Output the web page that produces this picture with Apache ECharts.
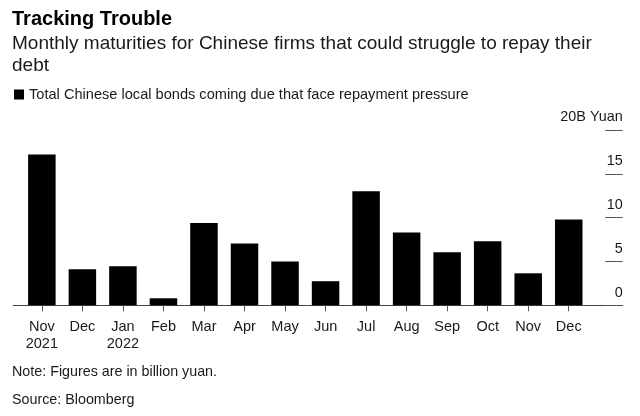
<!DOCTYPE html>
<html>
<head>
<meta charset="utf-8">
<script src="https://cdn.jsdelivr.net/npm/echarts@6/dist/echarts.min.js"></script>
<style>
html,body{margin:0;padding:0;background:#fff;}
#chart{width:640px;height:416px;}
</style>
</head>
<body>
<div id="chart"></div>
<script>
var months = ['Nov\n2021','Dec','Jan\n2022','Feb','Mar','Apr','May','Jun','Jul','Aug','Sep','Oct','Nov','Dec'];
var values = [17.2, 4.1, 4.45, 0.8, 9.4, 7.05, 5.0, 2.75, 13.0, 8.3, 6.05, 7.3, 3.65, 9.8];
var yTicks = [0, 5, 10, 15, 20];
var seriesName = 'Total Chinese local bonds coming due that face repayment pressure';
var titleText = 'Tracking Trouble';
var subtitleText = 'Monthly maturities for Chinese firms that could struggle to repay their\ndebt';
var noteText = 'Note: Figures are in billion yuan.';
var sourceText = 'Source: Bloomberg';
var unitLabel = '20B Yuan';

var FONT = "'Liberation Sans', Arial, Helvetica, sans-serif";
var TXT = '#1a1a1a';
var chart = echarts.init(document.getElementById('chart'), null, {renderer: 'canvas'});
var gridTop = 130, gridBottom = 416 - 305.3;
var yMin = yTicks[0], yMax = yTicks[yTicks.length - 1];
chart.setOption({
  backgroundColor: '#ffffff',
  animation: false,
  textStyle: {fontFamily: FONT},
  title: [
    {text: titleText, left: 12, top: 7, padding: 0,
     textStyle: {fontFamily: FONT, fontSize: 20, fontWeight: 'bold', color: '#000', lineHeight: 24}},
    {text: subtitleText, left: 12, top: 32.5, padding: 0,
     textStyle: {fontFamily: FONT, fontSize: 19, fontWeight: 'normal', color: TXT, lineHeight: 22}},
    {text: noteText, left: 12, top: 363.5, padding: 0,
     textStyle: {fontFamily: FONT, fontSize: 14.3, fontWeight: 'normal', color: TXT, lineHeight: 18}},
    {text: sourceText, left: 12, top: 391, padding: 0,
     textStyle: {fontFamily: FONT, fontSize: 14.3, fontWeight: 'normal', color: TXT, lineHeight: 18}}
  ],
  legend: {
    left: 14, top: 87, padding: 0,
    icon: 'rect', itemWidth: 10, itemHeight: 10,
    selectedMode: false,
    textStyle: {fontFamily: FONT, fontSize: 14.6, color: TXT},
    data: [seriesName]
  },
  grid: [
    {left: 21.6, right: 51.0, top: gridTop, bottom: gridBottom},
    {left: 13.3, right: 17.3, top: gridTop, bottom: gridBottom},
    {left: 622.7, right: 5, top: gridTop, bottom: gridBottom}
  ],
  xAxis: [
    {type: 'category', gridIndex: 0, data: months,
     axisLine: {show: false},
     axisTick: {show: true, alignWithLabel: true, length: 6, interval: 0, lineStyle: {color: '#555', width: 1}},
     axisLabel: {interval: 0, margin: 12.5, fontFamily: FONT, fontSize: 14.5, color: TXT, lineHeight: 17.5},
     splitLine: {show: false}},
    {type: 'value', gridIndex: 1, min: 0, max: 1,
     axisLine: {show: true, lineStyle: {color: '#444', width: 1}},
     axisTick: {show: false}, axisLabel: {show: false}, splitLine: {show: false}},
    {type: 'value', gridIndex: 2, min: 0, max: 1, show: false}
  ],
  yAxis: [
    {type: 'value', gridIndex: 0, min: yMin, max: yMax, interval: 5, show: false},
    {type: 'value', gridIndex: 1, min: yMin, max: yMax, interval: 5, show: false},
    {type: 'value', gridIndex: 2, position: 'left', min: yMin, max: yMax, interval: 5,
     axisLine: {show: false},
     axisTick: {show: true, inside: false, length: 17.5, lineStyle: {color: '#555', width: 1}},
     splitLine: {show: false},
     axisLabel: {inside: false, margin: 0, fontFamily: FONT, fontSize: 14.4, color: TXT,
       align: 'right', verticalAlign: 'bottom', lineHeight: 15, padding: [0, 0, 5, 0],
       formatter: function (v) { return v === yMax ? unitLabel : String(v); }}}
  ],
  series: [
    {name: seriesName, type: 'bar', xAxisIndex: 0, yAxisIndex: 0, data: values,
     barWidth: 27.5, itemStyle: {color: '#000'}}
  ]
});
</script>
</body>
</html>
